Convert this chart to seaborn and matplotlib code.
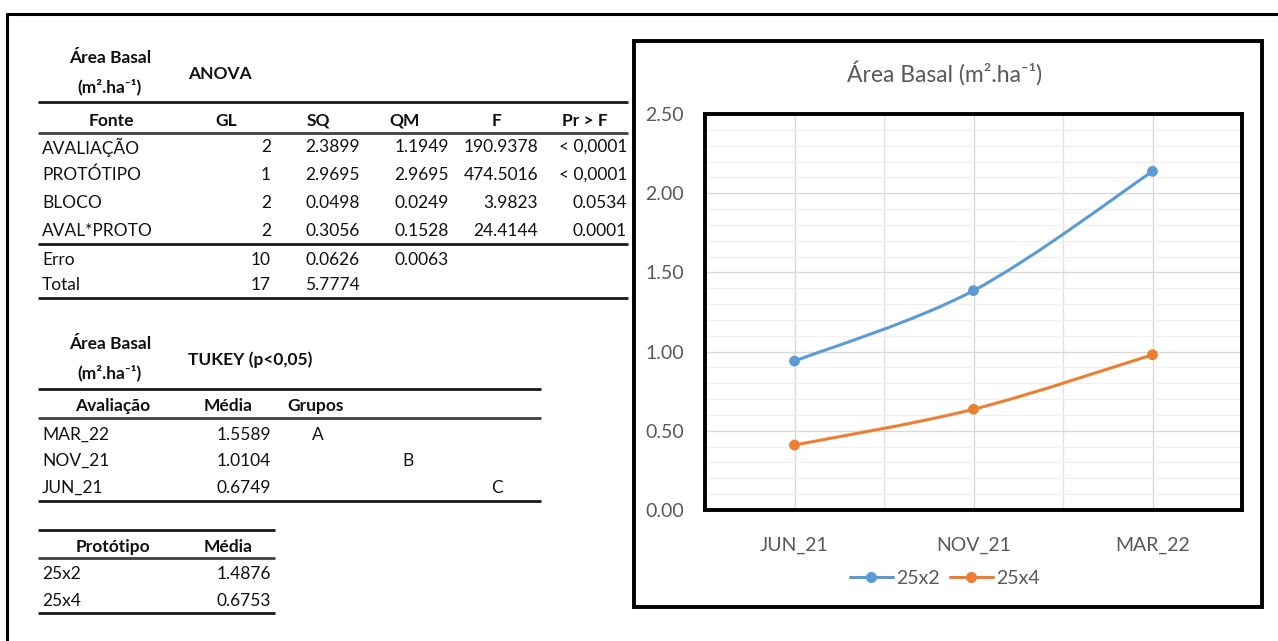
import numpy as np
import pandas as pd
import matplotlib
matplotlib.use("Agg")
import matplotlib.pyplot as plt
import seaborn as sns
from matplotlib.path import Path
from matplotlib.patches import PathPatch, Rectangle
from matplotlib.lines import Line2D

sns.set_theme(style="white")
plt.rcParams['font.family'] = ['Lato', 'DejaVu Sans']

# ---------------- data ----------------
avaliacoes = ['JUN_21', 'NOV_21', 'MAR_22']
prototipos = ['25x2', '25x4']
area_25x2 = [0.94, 1.385, 2.138]
area_25x4 = [0.41, 0.636, 0.98]

anova_fonte = ['AVALIAÇÃO', 'PROTÓTIPO', 'BLOCO', 'AVAL*PROTO', 'Erro', 'Total']
anova_gl = ['2', '1', '2', '2', '10', '17']
anova_sq = ['2.3899', '2.9695', '0.0498', '0.3056', '0.0626', '5.7774']
anova_qm = ['1.1949', '2.9695', '0.0249', '0.1528', '0.0063', '']
anova_f = ['190.9378', '474.5016', '3.9823', '24.4144', '', '']
anova_p = ['< 0,0001', '< 0,0001', '0.0534', '0.0001', '', '']

tukey_aval = ['MAR_22', 'NOV_21', 'JUN_21']
tukey_media = ['1.5589', '1.0104', '0.6749']
tukey_grupo = ['A', 'B', 'C']

proto_nome = ['25x2', '25x4']
proto_media = ['1.4876', '0.6753']

colors = {'25x2': '#5B9BD5', '25x4': '#ED7D31'}
GRAY = '#595959'

W, H = 1278, 641
fig = plt.figure(figsize=(W / 100, H / 100), dpi=100)

# ---------------- tables (pixel-space overlay) ----------------
tx = fig.add_axes([0, 0, 1, 1])
tx.set_xlim(0, W)
tx.set_ylim(H, 0)
tx.axis('off')

FS = 12.5
FSB = 12.5
unit = '(m²̣.ha⁻¹)'.replace('̣', '')

def hline(y, x0, x1, lw=2.0, c='#1a1a1a'):
    tx.plot([x0, x1], [y, y], color=c, lw=lw, solid_capstyle='butt')

def txt(x, y, s, ha='left', bold=False, size=None):
    if size is None:
        size = FSB if bold else FS
    tx.text(x, y, s, ha=ha, va='center', fontsize=size,
            fontweight='bold' if bold else 'normal', color='#111111')

# outer frame
tx.plot([7, W + 5], [14, 14], color='black', lw=2.2)
tx.plot([7, 7], [14, H + 5], color='black', lw=2.2)

# ANOVA block
txt(110, 58, 'Área Basal', ha='center', bold=True)
txt(110, 87, unit, ha='center', bold=True)
txt(188, 74, 'ANOVA', bold=True)
hline(102, 38, 628)
heads = [('Fonte', 111), ('GL', 226), ('SQ', 318), ('QM', 405), ('F', 497), ('Pr > F', 585)]
for s, x in heads:
    txt(x, 121, s, ha='center', bold=True)
hline(133, 38, 628, c='#404040')
rows_y = [147, 175, 203, 231, 260, 285]
right_x = [271, 360, 449, 538, 627]
for i, y in enumerate(rows_y):
    txt(42, y, anova_fonte[i])
    for col, x in zip([anova_gl, anova_sq, anova_qm, anova_f, anova_p], right_x):
        if col[i]:
            txt(x, y, col[i], ha='right')
hline(244, 38, 628)
hline(298, 38, 628)

# Tukey block
txt(110, 344, 'Área Basal', ha='center', bold=True)
txt(110, 373, unit, ha='center', bold=True)
txt(188, 360, 'TUKEY (p<0,05)', bold=True)
hline(389, 38, 541)
txt(113, 406, 'Avaliação', ha='center', bold=True)
txt(228, 406, 'Média', ha='center', bold=True)
txt(287, 406, 'Grupos', bold=True)
hline(418, 38, 541, c='#404040')
grupo_x = [318, 408, 497]
for i, y in enumerate([435, 461, 488]):
    txt(42, y, tukey_aval[i])
    txt(271, y, tukey_media[i], ha='right')
    txt(grupo_x[i], y, tukey_grupo[i], ha='center')
hline(501, 38, 541)

# Prototype means block
hline(530, 38, 275)
txt(113, 547, 'Protótipo', ha='center', bold=True)
txt(228, 547, 'Média', ha='center', bold=True)
hline(558, 38, 275, c='#404040')
for i, y in enumerate([574, 601]):
    txt(42, y, proto_nome[i])
    txt(271, y, proto_media[i], ha='right')
hline(613, 38, 275)

# ---------------- chart panel ----------------
tx.add_patch(Rectangle((634, 41), 628, 566, fill=False, ec='black', lw=2.8))
tx.text(945, 73, 'Área Basal (m².ha⁻¹)', ha='center', va='center',
        fontsize=16.5, color=GRAY)

ax = fig.add_axes([705 / W, 1 - 510 / H, (1242 - 705) / W, (510 - 114) / H])
df = pd.DataFrame({
    'Avaliação': avaliacoes * 2,
    'pos': list(range(len(avaliacoes))) * 2,
    'Área': area_25x2 + area_25x4,
    'Protótipo': ['25x2'] * 3 + ['25x4'] * 3,
})

def smooth_path(xs, ys):
    pts = np.column_stack([xs, ys]).astype(float)
    n = len(pts)
    verts = [pts[0]]
    codes = [Path.MOVETO]
    for i in range(n - 1):
        p0 = pts[max(i - 1, 0)]
        p1 = pts[i]
        p2 = pts[i + 1]
        p3 = pts[min(i + 2, n - 1)]
        c1 = p1 + (p2 - p0) / 6.0
        c2 = p2 - (p3 - p1) / 6.0
        verts += [c1, c2, p2]
        codes += [Path.CURVE4] * 3
    return Path(verts, codes)

for p in prototipos:
    sub = df[df['Protótipo'] == p]
    ax.add_patch(PathPatch(smooth_path(sub['pos'], sub['Área']), fill=False,
                           ec=colors[p], lw=2.2, zorder=3, capstyle='round'))

sns.scatterplot(data=df, x='pos', y='Área', hue='Protótipo', palette=colors,
                s=60, edgecolor='none', legend=False, zorder=4, ax=ax)

ax.set_xlim(-0.5, 2.5)
ax.set_ylim(0, 2.5)
ax.set_yticks(np.arange(0, 2.51, 0.5))
ax.set_yticks(np.arange(0, 2.51, 0.1), minor=True)
ax.set_xticks(range(len(avaliacoes)))
ax.set_xticks([-0.5, 0.5, 1.5, 2.5], minor=True)
ax.set_xticklabels(avaliacoes)
ax.set_yticklabels([f'{v:.2f}' for v in np.arange(0, 2.51, 0.5)])
ax.grid(True, which='major', color='#D9D9D9', lw=1.0)
ax.grid(True, which='minor', axis='y', color='#F0F0F0', lw=1.0)
ax.grid(True, which='minor', axis='x', color='#E2E2E2', lw=1.0)
ax.set_axisbelow(True)
ax.tick_params(axis='both', which='both', length=0, colors=GRAY, labelsize=14)
ax.tick_params(axis='x', pad=19)
ax.tick_params(axis='y', pad=15)
ax.set_xlabel('')
ax.set_ylabel('')
for sp in ax.spines.values():
    sp.set_visible(True)
    sp.set_color('black')
    sp.set_linewidth(2.8)

handles = [Line2D([0], [0], color=colors[p], lw=2.2, marker='o', markersize=7)
           for p in prototipos]
fig.legend(handles, prototipos, loc='center', bbox_to_anchor=(945 / W, 1 - 578 / H),
           ncol=2, frameon=False, fontsize=14, labelcolor=GRAY,
           handlelength=2.2, columnspacing=0.5, handletextpad=0.2)

fig.savefig('out.png', dpi=100, facecolor='white')
